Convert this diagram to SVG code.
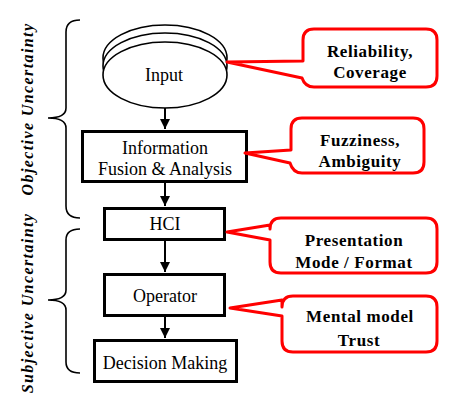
<svg xmlns="http://www.w3.org/2000/svg" width="462" height="405" viewBox="0 0 462 405">
<style>
.box{fill:#fff;stroke:#000;stroke-width:3}
.ell{fill:#fff;stroke:#000;stroke-width:1.6}
text{font-family:'Liberation Serif','Times New Roman',Tinos,serif}
.t{font-size:18px;fill:#000;text-anchor:middle}
.c{font-size:17px;font-weight:bold;fill:#000;text-anchor:middle;letter-spacing:0.6px}
.call{fill:#fff;stroke:#f00;stroke-width:3;stroke-linejoin:round}
.side{font-size:16px;font-weight:bold;font-style:italic;fill:#000;text-anchor:middle;letter-spacing:1.4px}
.brace{fill:none;stroke:#000;stroke-width:1.6}
.arr{stroke:#000;stroke-width:2;fill:none}
</style>
<defs>
<marker id="ah" viewBox="0 0 10 10" refX="10" refY="5" markerWidth="10" markerHeight="10" markerUnits="userSpaceOnUse" orient="auto">
<path d="M0,0 L10,5 L0,10 Z" fill="#000"/>
</marker>
</defs>
<rect width="462" height="405" fill="#fff"/>

<g id="labels">
<text class="side" font-family="Liberation Serif, serif" transform="translate(33,109) rotate(-90)">Objective  Uncertainty</text>
<text class="side" font-family="Liberation Serif, serif" transform="translate(33,303) rotate(-90)">Subjective  Uncertainty</text>
<path class="brace" d="M80,20 C70,20 66,24 66,32 L66,108 C66,114 60,118 48,118 C60,118 66,122 66,128 L66,206 C66,214 70,218 80,218"/>
<path class="brace" d="M80,229 C70,229 66,233 66,240 L66,290 C66,296 60,300 48,300 C60,300 66,304 66,310 L66,362 C66,369 70,373 80,373"/>
</g>

<g id="connectors">
<line class="arr" x1="165" y1="108" x2="165" y2="129" marker-end="url(#ah)"/>
<line class="arr" x1="165" y1="183" x2="165" y2="206" marker-end="url(#ah)"/>
<line class="arr" x1="165" y1="241" x2="165" y2="272" marker-end="url(#ah)"/>
<line class="arr" x1="165" y1="317" x2="165" y2="338" marker-end="url(#ah)"/>
</g>

<g id="input">
<ellipse class="ell" cx="165" cy="58" rx="62" ry="33"/>
<ellipse class="ell" cx="165" cy="66" rx="62" ry="33"/>
<ellipse class="ell" cx="165" cy="75" rx="62" ry="33"/>
<text class="t" x="164" y="81">Input</text>
</g>

<g id="fusion">
<rect class="box" x="82.5" y="131.5" width="164" height="50"/>
<text class="t" x="165" y="154">Information</text>
<text class="t" x="165" y="175">Fusion &amp; Analysis</text>
</g>

<g id="hci">
<rect class="box" x="104.5" y="208.5" width="120" height="31"/>
<text class="t" x="165" y="230">HCI</text>
</g>

<g id="operator">
<rect class="box" x="104.5" y="274.5" width="120" height="41"/>
<text class="t" x="165" y="302">Operator</text>
</g>

<g id="decision">
<rect class="box" x="94.5" y="340.5" width="142" height="41"/>
<text class="t" x="165" y="369">Decision Making</text>
</g>

<g id="callout1">
<path class="call" d="M227,62 L303,61 L303,40 Q303,29 314,29 L426,29 Q437,29 437,40 L437,76 Q437,87 426,87 L314,87 Q305,87 302,78 Z"/>
<text class="c" x="370" y="57">Reliability,</text>
<text class="c" x="370" y="78">Coverage</text>
</g>

<g id="callout2">
<path class="call" d="M245,153 L291,150 L291,129 Q291,118 302,118 L413,118 Q424,118 424,129 L424,162 Q424,173 413,173 L302,173 Q293,173 290,163 Z"/>
<text class="c" x="360" y="146">Fuzziness,</text>
<text class="c" x="360" y="167">Ambiguity</text>
</g>

<g id="callout3">
<path class="call" d="M227,232 L270,225 L270,229 Q270,218 281,218 L426,218 Q437,218 437,229 L437,262 Q437,273 426,273 L281,273 Q270,273 270,262 L270,240 Z"/>
<text class="c" x="354" y="246">Presentation</text>
<text class="c" x="354" y="268">Mode / Format</text>
</g>

<g id="callout4">
<path class="call" d="M230,308 L282,300 L282,307 Q282,296 293,296 L426,296 Q437,296 437,307 L437,341 Q437,352 426,352 L293,352 Q282,352 282,341 L282,316 Z"/>
<text class="c" x="360" y="322">Mental model</text>
<text class="c" x="359" y="346">Trust</text>
</g>
</svg>
